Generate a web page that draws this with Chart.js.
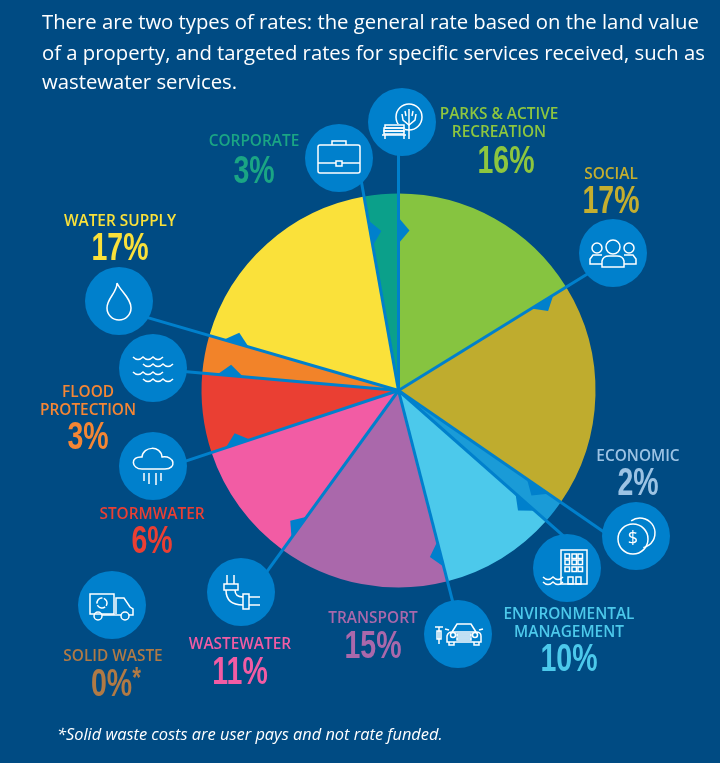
<!DOCTYPE html>
<html>
<head>
<meta charset="utf-8">
<script src="https://cdn.jsdelivr.net/npm/chart.js@4"></script>
<style>
  html, body { margin: 0; padding: 0; background: #004b83; }
  #page { position: relative; width: 720px; height: 763px; overflow: hidden; }
  canvas { position: absolute; left: 0; top: 0; }
  .intro { position: absolute; left: 42px; color: #fff; font: 20.3px/30px "Open Sans", sans-serif; white-space: nowrap; }
  .foot { position: absolute; left: 57px; top: 723px; color: #fff; font: italic 16.4px/22px "Open Sans", sans-serif; white-space: nowrap; }
  .lab { position: absolute; transform: translateX(-50%); text-align: center; white-space: nowrap; font: 600 15.4px/17.5px "Open Sans", sans-serif; }
  .pct { position: absolute; transform: translate(-50%, -50%) scaleX(0.75); white-space: nowrap; font: bold 38px/38px "Liberation Sans", sans-serif; }
  .pct sup { font-size: 30px; line-height: 0; vertical-align: 9px; }
</style>
</head>
<body>
<div id="page">
  <canvas id="pie-chart" width="720" height="763"></canvas>
</div>
<script>
let categories = ['Parks & Active Recreation', 'Social', 'Economic', 'Environmental Management', 'Transport',
  'Wastewater', 'Stormwater', 'Flood Protection', 'Water Supply', 'Corporate', 'Solid Waste'];
// size of each wedge as drawn in the picture (share of the circle)
let wedgeShares = [16.2, 18.4, 1.9, 9.5, 14, 9.9, 6.5, 3.1, 17.7, 2.8, 0];
// the figure printed next to each wedge
let printedPercents = ['16%', '17%', '2%', '10%', '15%', '11%', '6%', '3%', '17%', '3%', '0%<sup>*</sup>'];
let labelLines = [['PARKS & ACTIVE', 'RECREATION'], ['SOCIAL'], ['ECONOMIC'], ['ENVIRONMENTAL', 'MANAGEMENT'], ['TRANSPORT'],
  ['WASTEWATER'], ['STORMWATER'], ['FLOOD', 'PROTECTION'], ['WATER SUPPLY'], ['CORPORATE'], ['SOLID WASTE']];
let wedgeColors = ['#86c440', '#bfac2e', '#1a9bd7', '#4cc9eb', '#aa68ab', '#f25ca4', '#ea3f33', '#f28329', '#fae13a', '#0ba08a', '#b07a45'];
let textColors = ['#8dc63f', '#c4ae2f', '#9cc3e4', '#4cc9eb', '#aa68ab', '#f25ca4', '#ea3f33', '#f58634', '#fae13a', '#1aa584', '#b07a45'];
let introLines = ['There are two types of rates: the general rate based on the land value',
  'of a property, and targeted rates for specific services received, such as',
  'wastewater services.'];
let footnote = '*Solid waste costs are user pays and not rate funded.';

// layout only, in category order
let labelSpots = [[499, 105], [611, 165], [638, 447], [569, 605], [373, 609], [240, 635], [152, 505], [88, 383], [120, 212], [254, 132], [113, 647]];
let pctSpots = [[506, 160], [611, 200], [638, 482], [569, 658], [373, 645], [240, 671], [152, 540], [88, 436], [120, 247], [254, 170], [116, 683]];
let iconSpots = [[402, 122], [613, 253], [636, 536], [567, 568], [458, 634], [241, 592], [153, 466], [153, 368], [119, 301], [339, 158], [112, 605]];
let introTops = [6, 37, 66];

const page = document.getElementById('page');
introLines.forEach((t, i) => {
  let d = document.createElement('div');
  d.className = 'intro';
  d.style.top = introTops[i] + 'px';
  d.textContent = t;
  page.appendChild(d);
});
let fn = document.createElement('div');
fn.className = 'foot';
fn.textContent = footnote;
page.appendChild(fn);

categories.forEach((c, i) => {
  let d = document.createElement('div');
  d.className = 'lab';
  d.style.left = labelSpots[i][0] + 'px';
  d.style.top = labelSpots[i][1] + 'px';
  d.style.color = textColors[i];
  d.innerHTML = labelLines[i].join('<br>').replace(/&/g, '&amp;');
  page.appendChild(d);
  let p = document.createElement('div');
  p.className = 'pct';
  p.style.left = pctSpots[i][0] + 'px';
  p.style.top = pctSpots[i][1] + 'px';
  p.style.color = textColors[i];
  p.innerHTML = printedPercents[i];
  page.appendChild(p);
});

function line(c, pts) {
  c.beginPath();
  pts.forEach((p, i) => i ? c.lineTo(p[0], p[1]) : c.moveTo(p[0], p[1]));
  c.stroke();
}
function rect(c, x, y, w, h) { c.strokeRect(x, y, w, h); }
function ring(c, x, y, r) { c.beginPath(); c.arc(x, y, r, 0, Math.PI * 2); c.stroke(); }
function wave(c, x, y, n) {
  c.beginPath();
  c.moveTo(x, y);
  for (let i = 0; i < n; i++) c.quadraticCurveTo(x + i * 10 + 5, y + 5, x + i * 10 + 10, y);
  c.stroke();
}

// little outline icons, drawn around the middle of each circle
let iconDrawers = [
  function parks(c) {
    ring(c, 7, -5, 13);
    line(c, [[7, -13], [7, 17]]);
    line(c, [[0, -8], [1, -2], [7, 3], [13, -2], [14, -8]]);
    line(c, [[3, -11], [4, -6]]);
    line(c, [[11, -11], [10, -6]]);
    c.fillStyle = '#0080cc';
    c.fillRect(-18, 2, 21, 11);
    rect(c, -17, 3, 19, 3); rect(c, -18, 6, 20, 3); rect(c, -18, 9, 20, 3);
    line(c, [[-20, 13], [4, 13]]);
    line(c, [[-17, 13], [-17, 17]]);
    line(c, [[2, 13], [2, 17]]);
  },
  function social(c) {
    ring(c, 0, -6, 7);
    ring(c, -16, -5, 5);
    ring(c, 16, -5, 5);
    c.beginPath(); c.moveTo(-11, 14); c.lineTo(-11, 8); c.quadraticCurveTo(-10, 3, -4, 3); c.lineTo(4, 3); c.quadraticCurveTo(10, 3, 11, 8); c.lineTo(11, 14); c.closePath(); c.stroke();
    line(c, [[-11, 11], [-23, 11], [-23, 6], [-20, 2], [-11, 2]]);
    line(c, [[11, 11], [23, 11], [23, 6], [20, 2], [11, 2]]);
  },
  function economic(c) {
    ring(c, -3, 3, 15);
    c.beginPath(); c.arc(4, -3, 15, -2.2, 1.35); c.stroke();
    c.fillStyle = '#fff';
    c.font = '18px "Open Sans", sans-serif';
    c.textAlign = 'center';
    c.textBaseline = 'middle';
    c.fillText('$', -3, 3);
  },
  function environmental(c) {
    rect(c, -6, -18, 26, 34);
    [0, 7, 13].forEach(x => [-12, -6, 1].forEach(y => rect(c, x - 2, y - 2, 4.5, 4.5)));
    rect(c, 1, 9, 5, 7); rect(c, 9, 9, 5, 7);
    wave(c, -24, 9, 2); wave(c, -24, 14, 2);
  },
  function transport(c) {
    c.beginPath(); c.moveTo(-6, -2); c.lineTo(-1, -10); c.lineTo(13, -10); c.lineTo(18, -2); c.stroke();
    c.beginPath(); c.moveTo(-11, 2); c.quadraticCurveTo(-10, -2, -6, -2); c.lineTo(18, -2); c.quadraticCurveTo(23, -2, 23, 2); c.lineTo(23, 8); c.lineTo(-11, 8); c.closePath(); c.stroke();
    ring(c, -5, 1, 2.5); ring(c, 17, 1, 2.5);
    rect(c, -1, 0, 14, 2); rect(c, -1, 4, 14, 2);
    line(c, [[-13, -5], [-9, -4]]);
    line(c, [[25, -5], [21, -4]]);
    line(c, [[-9, 8], [-9, 11], [-4, 11], [-4, 8]]);
    line(c, [[16, 8], [16, 11], [21, 11], [21, 8]]);
    line(c, [[-23, -7], [-15, -7]]);
    line(c, [[-19, -7], [-19, 10]]);
    rect(c, -21, -3, 4, 8);
  },
  function wastewater(c) {
    line(c, [[-14, -17], [-14, -8]]);
    line(c, [[-7, -17], [-7, -8]]);
    rect(c, -17, -8, 14, 6);
    c.beginPath(); c.moveTo(-15, -2); c.quadraticCurveTo(-15, 13, 2, 13); c.stroke();
    c.beginPath(); c.moveTo(-6, -2); c.quadraticCurveTo(-6, 5, 2, 5); c.stroke();
    rect(c, 2, 2, 6, 15);
    line(c, [[8, 5], [19, 5]]);
    line(c, [[8, 13], [19, 13]]);
  },
  function stormwater(c) {
    c.beginPath();
    c.moveTo(-11, 3);
    c.bezierCurveTo(-22, 3, -23, -10, -11, -9);
    c.bezierCurveTo(-10, -20, 8, -21, 9, -9);
    c.bezierCurveTo(22, -11, 24, 3, 12, 3);
    c.closePath();
    c.stroke();
    line(c, [[-9, 7], [-9, 15]]);
    line(c, [[-4, 7], [-4, 18]]);
    line(c, [[3, 7], [3, 19]]);
    line(c, [[8, 7], [8, 15]]);
  },
  function flood(c) {
    wave(c, -20, -11, 3);
    wave(c, -10, -4, 3);
    wave(c, -20, 4, 3);
    wave(c, -10, 11, 3);
  },
  function water(c) {
    c.beginPath();
    c.moveTo(-2, -18);
    c.bezierCurveTo(-2, -8, -12, -3, -12, 7);
    c.arc(0, 7, 12, Math.PI, 0, true);
    c.bezierCurveTo(12, -3, 2, -9, -2, -18);
    c.stroke();
  },
  function corporate(c) {
    c.beginPath(); c.roundRect(-21, -13, 42, 28, 2); c.stroke();
    line(c, [[-7, -13], [-7, -17], [7, -17], [7, -13]]);
    line(c, [[-21, 5], [-3, 5]]);
    line(c, [[3, 5], [21, 5]]);
    rect(c, -3, 3, 6, 5);
  },
  function solid(c) {
    rect(c, -22, -11, 24, 20);
    line(c, [[4, 9], [4, -7], [12, -7], [18, 2], [21, 4], [21, 10], [17, 10]]);
    line(c, [[-10, 10], [9, 10]]);
    ring(c, -14, 11, 4);
    ring(c, 13, 11, 4);
    c.beginPath(); c.arc(-10, -2, 5, -1.2, 0.6); c.stroke();
    c.beginPath(); c.arc(-10, -2, 5, 0.9, 2.7); c.stroke();
    c.beginPath(); c.arc(-10, -2, 5, 3, 4.8); c.stroke();
  }
];

// spokes, small notches and icon circles on top of the pie
const overlay = {
  id: 'overlay',
  afterDatasetsDraw(chart) {
    const c = chart.ctx;
    const arcs = chart.getDatasetMeta(0).data;
    c.save();
    c.strokeStyle = c.fillStyle = '#0080cc';
    c.lineWidth = 3;
    arcs.forEach((arc, i) => {
      if (!wedgeShares[i]) return;
      let a = arc.startAngle;
      let ux = Math.cos(a), uy = Math.sin(a);
      let nx = -uy, ny = ux; // clockwise side
      let len = Math.hypot(iconSpots[i][0] - arc.x, iconSpots[i][1] - arc.y);
      line(c, [[arc.x, arc.y], [arc.x + ux * len, arc.y + uy * len]]);
      let nr = (i === 0 || i === 9) ? 160 : 169; // the two near the top sit further in
      c.beginPath();
      c.moveTo(arc.x + ux * (nr + 13), arc.y + uy * (nr + 13));
      c.lineTo(arc.x + ux * nr + nx * 11, arc.y + uy * nr + ny * 11);
      c.lineTo(arc.x + ux * (nr - 13), arc.y + uy * (nr - 13));
      c.closePath();
      c.fill();
    });
    iconSpots.forEach((p, i) => {
      c.fillStyle = '#0080cc';
      c.beginPath();
      c.arc(p[0], p[1], 34, 0, Math.PI * 2);
      c.fill();
      c.save();
      c.translate(p[0], p[1]);
      c.strokeStyle = '#fff';
      c.lineWidth = 1.5;
      iconDrawers[i](c);
      c.restore();
    });
    c.restore();
  }
};

let pie_chart = new Chart(document.getElementById('pie-chart'), {
  type: 'pie',
  data: {
    labels: categories,
    datasets: [{ data: wedgeShares, backgroundColor: wedgeColors, borderWidth: 0 }]
  },
  options: {
    responsive: false,
    animation: false,
    layout: { padding: { left: 201.5, right: 124.5, top: 193.5, bottom: 175.5 } },
    plugins: { legend: { display: false }, tooltip: { enabled: false } }
  },
  plugins: [overlay]
});
</script>
</body>
</html>
